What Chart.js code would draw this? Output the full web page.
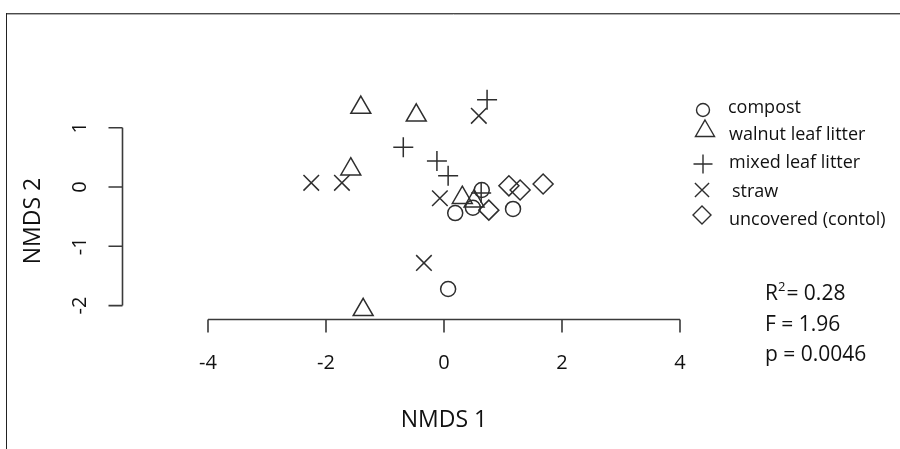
<!DOCTYPE html>
<html>
<head>
<meta charset="utf-8">
<script src="https://cdn.jsdelivr.net/npm/chart.js@4/dist/chart.umd.min.js"></script>
<style>
html,body{margin:0;padding:0;background:#fff;}
#wrap{position:relative;width:900px;height:449px;}
</style>
</head>
<body>
<div id="wrap"><canvas id="c"></canvas></div>
<script>
// ---- data (NMDS scores) ----
const seriesNames = ["compost", "walnut leaf litter", "mixed leaf litter", "straw", "uncovered (contol)"];
const compostX   = [0.07, 0.19, 0.49, 0.64, 1.17];
const compostY   = [-1.72, -0.44, -0.35, -0.05, -0.37];
const walnutX    = [-1.41, -0.47, -1.58, -1.37, 0.31, 0.51];
const walnutY    = [1.34, 1.21, 0.30, -2.07, -0.18, -0.24];
const mixedX     = [0.73, -0.69, -0.12, 0.07, 0.63];
const mixedY     = [1.47, 0.67, 0.44, 0.19, -0.10];
const strawX     = [0.59, -2.25, -1.73, -0.07, -0.34];
const strawY     = [1.20, 0.07, 0.07, -0.19, -1.28];
const uncoveredX = [1.10, 1.29, 1.68, 0.76];
const uncoveredY = [0.02, -0.05, 0.05, -0.39];
const xTicks = [-4, -2, 0, 2, 4];
const yTicks = [-2, -1, 0, 1];
const statsLines = [["R", "2", "= 0.28"], ["F = 1.96"], ["p = 0.0046"]];

const toPts = (xs, ys) => xs.map((x, i) => ({x: x, y: ys[i]}));
const ink = "#2e2e2e";
const txt = "#111111";
const FONT = "'Open Sans', sans-serif";

const styles = [
  {pointStyle: "circle",   radius: 7.5},
  {pointStyle: "triangle", radius: 11.5},
  {pointStyle: "cross",    radius: 10},
  {pointStyle: "crossRot", radius: 11},
  {pointStyle: "rectRot",  radius: 10}
];
const raw = [[compostX, compostY], [walnutX, walnutY], [mixedX, mixedY], [strawX, strawY], [uncoveredX, uncoveredY]];

const datasets = raw.map((d, i) => ({
  label: seriesNames[i],
  data: toPts(d[0], d[1]),
  pointStyle: styles[i].pointStyle,
  pointRadius: styles[i].radius,
  pointHoverRadius: styles[i].radius,
  pointBorderColor: ink,
  pointBackgroundColor: "rgba(0,0,0,0)",
  pointBorderWidth: 1.5,
  showLine: false,
  clip: false
}));

function drawSymbol(ctx, style, x, y, r) {
  ctx.beginPath();
  if (style === "circle") {
    ctx.arc(x, y, r, 0, Math.PI * 2);
  } else if (style === "triangle") {
    ctx.moveTo(x, y - r);
    ctx.lineTo(x + r * Math.sin(2 * Math.PI / 3), y - r * Math.cos(2 * Math.PI / 3));
    ctx.lineTo(x + r * Math.sin(4 * Math.PI / 3), y - r * Math.cos(4 * Math.PI / 3));
    ctx.closePath();
  } else if (style === "cross") {
    ctx.moveTo(x - r, y); ctx.lineTo(x + r, y);
    ctx.moveTo(x, y - r); ctx.lineTo(x, y + r);
  } else if (style === "crossRot") {
    const o = r * Math.SQRT1_2;
    ctx.moveTo(x - o, y - o); ctx.lineTo(x + o, y + o);
    ctx.moveTo(x - o, y + o); ctx.lineTo(x + o, y - o);
  } else if (style === "rectRot") {
    ctx.moveTo(x - r, y); ctx.lineTo(x, y - r); ctx.lineTo(x + r, y); ctx.lineTo(x, y + r);
    ctx.closePath();
  }
  ctx.stroke();
}

const decor = {
  id: "decor",
  afterDraw(chart) {
    const ctx = chart.ctx;
    const xs = chart.scales.x, ys = chart.scales.y;
    ctx.save();
    // frame (top and left border)
    ctx.lineWidth = 1;
    ctx.strokeStyle = "#4a4a4a";
    ctx.beginPath(); ctx.moveTo(6, 13.5); ctx.lineTo(900, 13.5); ctx.stroke();
    ctx.strokeStyle = "#b0b0b0";
    ctx.beginPath(); ctx.moveTo(7, 14.5); ctx.lineTo(900, 14.5); ctx.stroke();
    ctx.strokeStyle = "#222";
    ctx.beginPath(); ctx.moveTo(6.5, 13); ctx.lineTo(6.5, 449); ctx.stroke();

    // x axis
    ctx.strokeStyle = "#3a3a3a";
    ctx.lineWidth = 1.6;
    const xa = Math.round(chart.chartArea.bottom) + 0.5;
    const x0 = xs.getPixelForValue(xTicks[0]), x1 = xs.getPixelForValue(xTicks[xTicks.length - 1]);
    ctx.beginPath(); ctx.moveTo(x0, xa); ctx.lineTo(x1, xa);
    xTicks.forEach(t => { const p = xs.getPixelForValue(t); ctx.moveTo(p, xa); ctx.lineTo(p, xa + 13); });
    ctx.stroke();
    ctx.fillStyle = txt;
    ctx.font = "20px " + FONT;
    ctx.textAlign = "center"; ctx.textBaseline = "alphabetic";
    xTicks.forEach(t => ctx.fillText(String(t), xs.getPixelForValue(t), 369));
    ctx.font = "23px " + FONT;
    ctx.fillText("NMDS 1", xs.getPixelForValue(0), 427);

    // y axis
    const ya = Math.round(chart.chartArea.left) + 0.5;
    const y0 = ys.getPixelForValue(yTicks[0]), y1 = ys.getPixelForValue(yTicks[yTicks.length - 1]);
    ctx.beginPath(); ctx.moveTo(ya, y0); ctx.lineTo(ya, y1);
    yTicks.forEach(t => { const p = ys.getPixelForValue(t); ctx.moveTo(ya, p); ctx.lineTo(ya - 14, p); });
    ctx.stroke();
    ctx.font = "20px " + FONT;
    yTicks.forEach(t => {
      ctx.save();
      ctx.translate(86, ys.getPixelForValue(t));
      ctx.rotate(-Math.PI / 2);
      ctx.textAlign = "center";
      ctx.fillText(String(t), 0, 0);
      ctx.restore();
    });
    ctx.save();
    ctx.font = "23px " + FONT;
    ctx.translate(40, 221);
    ctx.rotate(-Math.PI / 2);
    ctx.textAlign = "center";
    ctx.fillText("NMDS 2", 0, 0);
    ctx.restore();

    // legend
    const legBase = [113, 140, 168, 197, 225];
    const legSym = [[703, 110, 6.5], [705, 131, 11], [703, 164, 9.5], [702, 190, 10], [702, 215, 9]];
    const legTextX = [728, 729, 729, 732, 729];
    ctx.lineWidth = 1.4;
    ctx.strokeStyle = ink;
    ctx.font = "18px " + FONT;
    ctx.textAlign = "left";
    seriesNames.forEach((n, i) => {
      drawSymbol(ctx, styles[i].pointStyle, legSym[i][0], legSym[i][1], legSym[i][2]);
      ctx.fillText(n, legTextX[i], legBase[i]);
    });

    // statistics
    ctx.font = "21px " + FONT;
    const sx = 765;
    const sBase = [300, 331, 361];
    let w = ctx.measureText(statsLines[0][0]).width;
    ctx.fillText(statsLines[0][0], sx, sBase[0]);
    ctx.font = "13px " + FONT;
    ctx.fillText(statsLines[0][1], sx + w, sBase[0] - 9);
    const w2 = ctx.measureText(statsLines[0][1]).width;
    ctx.font = "21px " + FONT;
    ctx.fillText(statsLines[0][2], sx + w + w2 + 1, sBase[0]);
    ctx.fillText(statsLines[1][0], sx, sBase[1]);
    ctx.fillText(statsLines[2][0], sx, sBase[2]);
    ctx.restore();
  }
};

new Chart(document.getElementById("c"), {
  type: "scatter",
  data: {datasets: datasets},
  options: {
    responsive: true,
    maintainAspectRatio: false,
    animation: false,
    events: [],
    layout: {padding: {left: 122, right: 200, top: 60, bottom: 130}},
    plugins: {legend: {display: false}, tooltip: {enabled: false}},
    scales: {
      x: {type: "linear", display: false, min: -5.4576, max: 4.3390},
      y: {type: "linear", display: false, min: -2.226, max: 2.142}
    }
  },
  plugins: [decor]
});
</script>
</body>
</html>
